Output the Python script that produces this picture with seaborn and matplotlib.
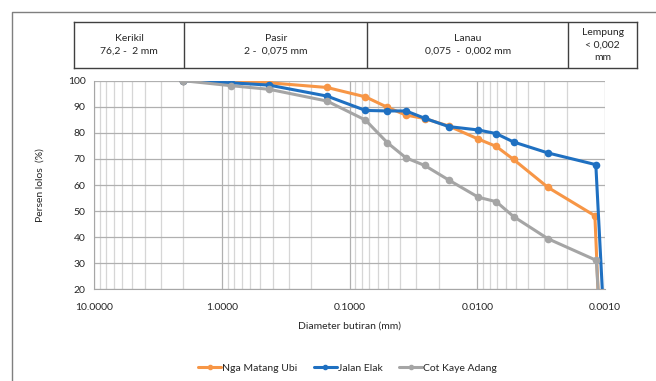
import matplotlib
matplotlib.use("Agg")
import matplotlib.pyplot as plt
from matplotlib.lines import Line2D
from matplotlib.ticker import FixedLocator, LogLocator, NullFormatter
import seaborn as sns
import pandas as pd

# data
sampel = ["Nga Matang Ubi", "Jalan Elak", "Cot Kaye Adang"]
warna = ["#F79646", "#1F70C1", "#A5A5A5"]

diam_nga = [2.0, 0.85, 0.425, 0.15, 0.075, 0.0505, 0.0361, 0.0258, 0.0167,
            0.0098, 0.0071, 0.0052, 0.0028, 0.0012, 0.00109]
lolos_nga = [100, 99.8, 99.2, 97.4, 93.8, 89.8, 86.8, 85.5, 82.6,
             77.6, 74.8, 69.8, 59.1, 48.2, 0]

diam_elak = [2.0, 0.85, 0.425, 0.15, 0.075, 0.0505, 0.0361, 0.0258, 0.0167,
             0.0098, 0.0071, 0.0052, 0.0028, 0.00118, 0.0010]
lolos_elak = [100, 99.2, 98.3, 94.1, 88.6, 88.4, 88.4, 85.6, 82.4,
              81.1, 79.7, 76.5, 72.3, 67.8, 0]

diam_cot = [2.0, 0.85, 0.425, 0.15, 0.075, 0.0505, 0.0361, 0.0258, 0.0167,
            0.0098, 0.0071, 0.0052, 0.0028, 0.00117, 0.00107]
lolos_cot = [100, 98.1, 96.7, 92.2, 84.9, 76.2, 70.4, 67.5, 61.9,
             55.3, 53.6, 47.9, 39.4, 31.1, 0]

xticks = [10, 1, 0.1, 0.01, 0.001]
yticks = [20, 30, 40, 50, 60, 70, 80, 90, 100]

# klasifikasi tanah (tabel atas)
batas_tabel = [14.6, 2.0, 0.075, 0.002, 0.000583]
label_tabel = ["Kerikil\n76,2 -  2 mm", "Pasir\n2 -  0,075 mm",
               "Lanau\n0,075  -  0,002 mm", "Lempung\n< 0,002\nmm"]

df = pd.concat([
    pd.DataFrame({"d": diam_nga, "p": lolos_nga, "sampel": sampel[0]}),
    pd.DataFrame({"d": diam_elak, "p": lolos_elak, "sampel": sampel[1]}),
    pd.DataFrame({"d": diam_cot, "p": lolos_cot, "sampel": sampel[2]}),
])

sns.set_style("white")
plt.rcParams["font.family"] = ["Lato", "DejaVu Sans"]
plt.rcParams["text.color"] = "#262626"

fig = plt.figure(figsize=(6.56, 3.81), dpi=100)
ax = fig.add_axes([94 / 656, 1 - 289.3 / 381, 511 / 656, 208.6 / 381])
ax.set_xscale("log")

sns.lineplot(data=df, x="d", y="p", hue="sampel", palette=dict(zip(sampel, warna)),
             sort=False, estimator=None, marker="o", markersize=5.5,
             markeredgewidth=0, linewidth=2.2, legend=False, ax=ax)

ax.set_xlim(10, 0.001)
ax.set_ylim(20, 100)
ax.xaxis.set_major_locator(FixedLocator(xticks))
ax.set_xticklabels([f"{t:.4f}" for t in xticks])
ax.xaxis.set_minor_locator(LogLocator(base=10, subs=range(2, 10)))
ax.xaxis.set_minor_formatter(NullFormatter())
ax.set_yticks(yticks)

ax.grid(which="major", color="#b0b0b0", linewidth=0.9)
ax.grid(which="minor", axis="x", color="#d6d6d6", linewidth=0.9)
for s in ["top", "right"]:
    ax.spines[s].set_visible(False)
for s in ["left", "bottom"]:
    ax.spines[s].set_color("#a6a6a6")
ax.tick_params(axis="both", which="both", direction="inout", colors="#a6a6a6",
               labelcolor="#262626", labelsize=7.5)
ax.tick_params(axis="y", length=8, pad=2)
ax.tick_params(axis="x", which="major", length=8, pad=6)
ax.tick_params(axis="x", which="minor", length=6)

ax.set_xlabel("Diameter butiran (mm)", fontsize=7.5, labelpad=7)
ax.set_ylabel("Persen lolos  (%)", fontsize=7.5, labelpad=17)

handles = [Line2D([], [], color=c, marker="o", markersize=3, linewidth=2.2) for c in warna]
fig.legend(handles, sampel, loc="center", bbox_to_anchor=(0.53, 0.034), ncol=3,
           frameon=False, fontsize=7.5, handlelength=2.2, handletextpad=0.1,
           columnspacing=1.6)

# tabel klasifikasi di atas grafik
tax = fig.add_axes([74 / 656, 1 - 68 / 381, 563 / 656, 46 / 381])
tax.set_xscale("log")
tax.set_xlim(batas_tabel[0], batas_tabel[-1])
tax.set_ylim(0, 1)
tax.set_xticks([])
tax.set_yticks([])
tax.minorticks_off()
for s in tax.spines.values():
    s.set_color("#404040")
    s.set_linewidth(1)
for b in batas_tabel[1:-1]:
    tax.axvline(b, color="#404040", linewidth=1)
for i, t in enumerate(label_tabel):
    xm = (batas_tabel[i] * batas_tabel[i + 1]) ** 0.5
    tax.text(xm, 0.5, t, ha="center", va="center", fontsize=7.5,
             linespacing=1.55 if i == 3 else 1.5)

# bingkai luar
fig.add_artist(Line2D([12 / 656, 12 / 656, 1], [0, 1 - 12 / 381, 1 - 12 / 381],
                      transform=fig.transFigure, color="#7f7f7f", linewidth=1))

fig.savefig("out.png", dpi=100)
